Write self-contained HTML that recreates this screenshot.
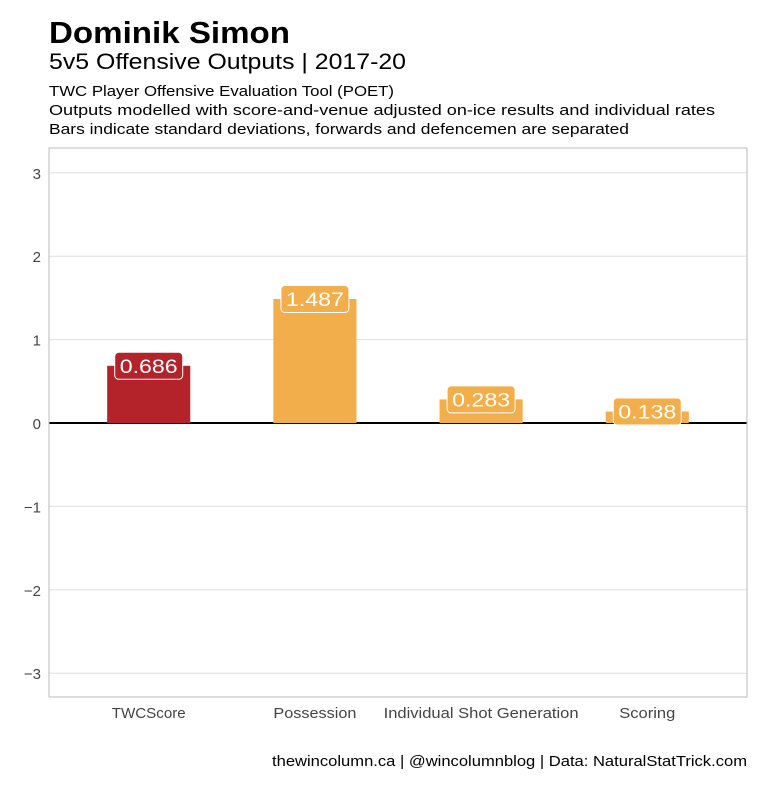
<!DOCTYPE html>
<html><head><meta charset="utf-8"><style>
body{margin:0;background:#fff;}
svg text{font-family:"Liberation Sans",sans-serif;}
</style></head><body>
<svg width="780" height="780" xmlns="http://www.w3.org/2000/svg">
<rect width="780" height="780" fill="#fff"/>
<text x="49" y="43" font-size="31" font-weight="bold" fill="#000" textLength="241" lengthAdjust="spacingAndGlyphs">Dominik Simon</text>
<text x="49" y="69" font-size="22" fill="#000" textLength="357" lengthAdjust="spacingAndGlyphs">5v5 Offensive Outputs | 2017-20</text>
<text x="49" y="96" font-size="15" fill="#000" textLength="345" lengthAdjust="spacingAndGlyphs">TWC Player Offensive Evaluation Tool (POET)</text>
<text x="49" y="115" font-size="15" fill="#000" textLength="666" lengthAdjust="spacingAndGlyphs">Outputs modelled with score-and-venue adjusted on-ice results and individual rates</text>
<text x="49" y="134" font-size="15" fill="#000" textLength="580" lengthAdjust="spacingAndGlyphs">Bars indicate standard deviations, forwards and defencemen are separated</text>
<g id="grid"></g>
<line x1="49" x2="747" y1="423" y2="423" stroke="#000" stroke-width="2"/>
<g id="bars"></g>
<rect x="49" y="148" width="698" height="549" fill="none" stroke="#bbb" stroke-width="1"/>
<text x="747" y="766" font-size="15" text-anchor="end" fill="#000" textLength="475" lengthAdjust="spacingAndGlyphs">thewincolumn.ca | @wincolumnblog | Data: NaturalStatTrick.com</text>
</svg>
<script>
const categories=["TWCScore","Possession","Individual Shot Generation","Scoring"];
const values=[0.686,1.487,0.283,0.138];
const labels=["0.686","1.487","0.283","0.138"];
const colors=["#b5232a","#f2ae4b","#f2ae4b","#f2ae4b"];
const yTicks=[3,2,1,0,-1,-2,-3];
const catWidths=[74,83,195,56];
const NS="http://www.w3.org/2000/svg";
const L=49,W=698;
function y(v){return 423-v*83.4;}
function x(i){return L+(i+1-0.4)*W/4.2;}
const bw=0.5*W/4.2;
const g=document.getElementById('grid'),b=document.getElementById('bars');
function mk(t,a,p){const e=document.createElementNS(NS,t);for(const k in a)e.setAttribute(k,a[k]);p.appendChild(e);return e;}
yTicks.forEach(t=>{
 const ln=mk('line',{x1:L,x2:L+W,y1:y(t),y2:y(t),stroke:'#e0e0e0','stroke-width':1},g);
 
 
 const tx=mk('text',{x:41,y:y(t)+6,'font-size':15,'text-anchor':'end',fill:'#444'},g);
 tx.textContent=t<0?'\u2212'+Math.abs(t):t;
 
 
});
categories.forEach((c,i)=>{
 const v=values[i];
 const r=mk('rect',{x:x(i)-bw/2,y:Math.min(y(v),y(0)),width:bw,height:Math.abs(y(v)-y(0)),fill:colors[i]},b);
 
 
 const lb=mk('rect',{x:x(i)-34,y:y(v)-13.5,width:68,height:27,rx:4,fill:colors[i],stroke:'#fff','stroke-width':1},b);
 
 
 const t=mk('text',{x:x(i),y:y(v)+7,'font-size':19,'text-anchor':'middle',fill:'#fff',textLength:58,lengthAdjust:'spacingAndGlyphs'},b);
 t.textContent=labels[i];
 
 
 const xl=mk('text',{x:x(i),y:718,'font-size':15,'text-anchor':'middle',fill:'#444',textLength:catWidths[i],lengthAdjust:'spacingAndGlyphs'},b);
 xl.textContent=c;
 
 
});
</script>
</body></html>
